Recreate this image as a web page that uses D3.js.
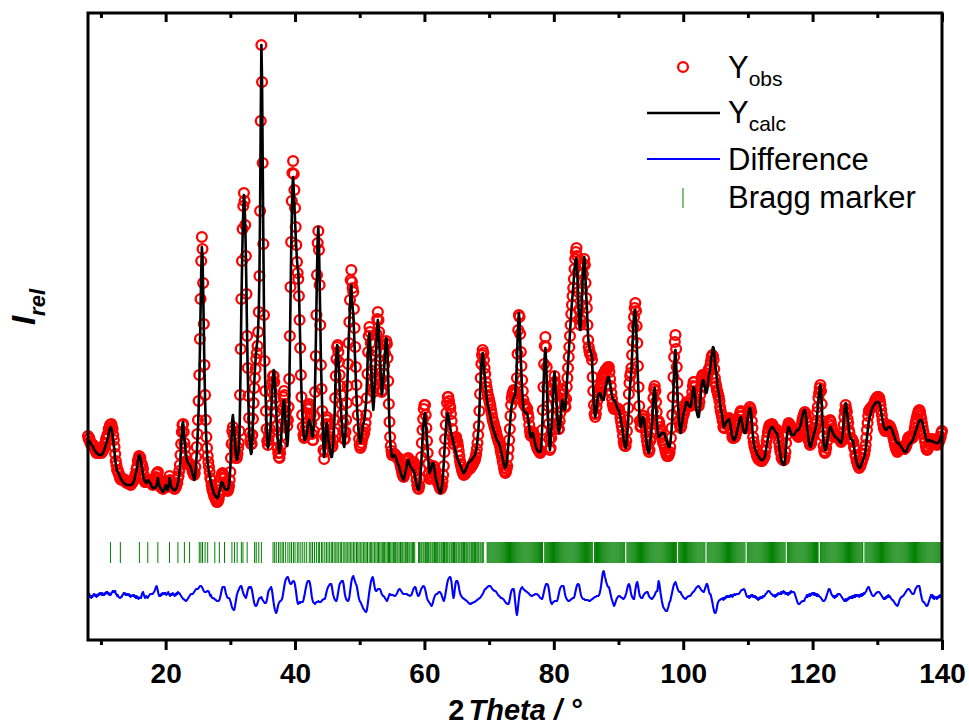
<!DOCTYPE html>
<html>
<head>
<meta charset="utf-8">
<script src="https://cdn.jsdelivr.net/npm/d3@7"></script>
<style>
  body { margin: 0; background: #fff; }
  svg { display: block; }
  text { font-family: "Liberation Sans", Arial, sans-serif; }
</style>
</head>
<body>
<div id="chart"></div>
<script>
// scan grid: 8.0 .. 140.0 deg, step 0.1 deg (one row per degree below)
const scanStart = 8, scanStep = 0.1;

// calculated profile (relative intensity)
const yCalc = [
200,199,199,198,197,196,195,194,193,191,
190,189,188,187,187,186,186,185,185,185,
185,185,186,187,188,190,192,194,196,198,
200,203,207,210,212,213,212,209,205,200,
194,188,180,176,172,169,168,167,166,164,
162,161,160,159,158,157,157,156,156,155,
155,155,155,155,155,155,155,155,156,156,
158,159,161,164,167,170,174,179,183,185,
184,182,178,174,170,166,162,160,159,158,
157,158,159,160,159,158,157,156,154,153,
152,152,152,152,153,153,155,158,162,158,
155,153,152,151,150,149,148,149,151,153,
155,153,151,150,152,156,162,159,155,153,
152,151,150,150,150,150,151,152,154,157,
160,165,172,183,195,208,216,218,210,200,
195,188,183,180,178,177,176,175,174,172,
170,168,165,163,160,161,166,175,185,198,
212,230,255,290,330,368,393,382,350,310,
270,240,215,198,186,178,172,168,165,161,
158,155,152,150,148,146,145,144,143,142,
142,143,145,148,151,154,157,158,157,155,
153,152,151,151,150,150,150,152,155,162,
172,188,205,220,225,218,208,200,190,184,
180,182,186,190,200,235,280,330,370,405,
430,445,438,415,385,345,300,265,235,212,
198,190,186,188,200,220,240,258,270,280,
290,295,300,312,330,365,430,520,595,560,
480,400,330,285,255,235,215,200,192,194,
198,203,212,225,240,254,265,270,268,255,
243,230,215,203,195,189,187,191,198,207,
218,230,238,240,232,220,210,200,194,200,
215,245,290,340,385,425,452,463,450,435,
420,405,392,380,373,368,350,325,298,270,
248,230,218,208,202,200,201,203,205,210,
215,218,220,218,215,212,206,203,205,215,
230,255,290,330,370,402,413,395,360,320,
280,255,232,210,192,183,190,203,213,217,
212,205,198,195,190,186,183,183,188,198,
208,222,245,268,285,295,293,282,268,252,
240,230,220,210,202,196,193,198,208,222,
240,258,280,300,318,335,350,355,340,332,
327,312,295,278,260,243,230,220,210,203,
199,197,200,205,210,215,217,220,225,232,
240,255,275,292,303,307,298,283,268,250,
238,230,238,252,268,283,300,314,320,312,
300,288,272,256,245,248,256,265,275,288,
298,302,300,285,260,235,215,200,192,187,
183,183,184,185,185,184,182,180,178,176,
175,173,170,168,166,164,162,161,160,163,
166,169,172,176,179,180,178,176,174,173,
172,171,170,170,168,165,162,158,155,152,
151,150,152,157,165,175,188,200,210,220,
225,227,220,210,200,190,180,172,167,169,
170,173,176,177,177,174,169,164,160,158,
156,153,151,149,147,147,149,153,160,168,
178,190,200,210,218,224,227,225,220,215,
212,208,205,203,200,197,194,191,189,187,
183,182,180,178,177,175,174,172,170,169,
167,167,168,169,171,172,174,176,177,178,
178,179,180,180,181,182,183,184,185,187,
190,194,200,207,216,230,247,262,275,283,
287,283,274,265,258,250,244,239,235,232,
229,226,223,220,217,214,212,210,208,206,
204,202,200,199,198,197,195,193,190,187,
184,181,178,175,173,172,174,177,181,190,
198,205,213,222,230,235,238,240,242,244,
245,250,262,280,300,318,327,320,300,280,
265,250,240,232,229,228,228,227,227,226,
222,218,212,207,203,203,205,207,206,203,
200,197,194,192,190,189,189,188,188,188,
190,198,212,230,250,270,285,292,280,260,
240,222,207,196,190,196,208,218,230,248,
262,268,262,250,240,228,218,210,207,212,
218,227,235,240,238,235,232,230,232,242,
255,265,276,287,297,307,318,328,337,345,
353,362,370,377,381,382,372,355,335,318,
312,310,318,335,352,368,378,383,378,360,
345,335,318,303,297,293,290,288,287,282,
265,250,236,226,223,226,232,238,243,246,
246,247,246,244,242,241,240,240,243,248,
252,255,258,261,263,263,260,256,252,248,
244,241,240,240,239,238,236,234,232,231,
230,229,226,222,218,215,211,206,200,196,
194,192,195,202,210,220,233,245,255,262,
270,285,300,315,325,330,330,318,300,282,
262,245,230,218,213,215,219,222,223,222,
218,212,205,199,194,190,188,187,190,200,
203,210,218,230,242,250,252,245,233,222,
213,207,203,203,204,205,206,207,207,207,
207,206,204,202,200,198,196,194,193,193,
197,203,210,220,235,252,270,284,290,278,
262,248,235,224,215,209,207,211,216,221,
225,227,230,233,236,238,238,237,235,234,
234,233,235,239,244,249,253,252,246,239,
232,228,225,223,223,228,236,245,252,257,
259,260,258,254,250,247,247,250,255,262,
266,268,272,278,285,290,293,292,286,278,
273,268,261,255,250,247,242,236,231,228,
225,220,216,213,214,216,217,218,219,220,
220,221,218,214,210,206,203,201,200,200,
201,203,205,208,211,214,217,220,222,223,
221,217,213,210,208,207,207,209,213,218,
223,227,230,232,231,226,218,210,203,197,
194,191,190,188,186,185,184,183,182,181,
180,180,180,180,181,182,183,186,190,195,
198,202,205,208,210,211,212,213,213,212,
211,210,209,208,207,207,205,200,195,190,
186,182,179,177,176,175,175,178,185,193,
202,208,212,213,212,210,208,206,205,205,
205,205,206,207,208,209,210,210,210,211,
212,214,217,220,223,226,228,230,230,227,
222,216,210,204,199,195,194,193,195,198,
201,203,206,208,210,213,218,225,232,240,
246,252,255,250,238,222,208,198,193,190,
190,192,196,200,204,208,211,213,213,211,
209,208,206,205,204,203,203,202,202,201,
200,199,198,198,197,199,203,210,218,227,
233,237,235,230,224,218,212,207,203,201,
201,200,200,197,193,189,185,181,178,176,
174,173,172,172,173,175,177,178,180,182,
183,186,190,196,202,208,214,219,222,225,
227,229,231,233,234,235,236,237,237,238,
238,238,238,237,235,232,228,224,220,217,
214,212,211,210,210,211,212,213,213,213,
213,212,211,210,208,206,204,202,200,199,
198,197,197,197,196,195,194,193,192,191,
190,189,188,188,188,189,190,192,194,195,
196,197,197,198,199,200,202,204,206,208,
210,212,214,216,218,219,220,220,220,219,
217,214,211,208,205,202,200,199,199,199,
200,200,199,199,199,199,198,198,198,198,
197,197,197,197,197,198,199,201,203,205,
207
];

// difference curve Yobs - Ycalc, same grid
const yDiff = [
4,2,3,0,1,-1,1,0,2,3,
3,1,2,0,2,1,3,2,4,3,
4,2,4,2,3,2,4,3,5,4,
5,3,4,2,3,2,4,4,6,5,
6,5,6,3,3,1,2,0,0,-1,
-1,0,0,2,2,4,3,4,2,3,
2,3,2,3,1,2,0,1,1,2,
1,2,0,1,-1,1,-1,0,-2,-1,
-1,0,-1,2,4,5,3,1,-1,0,
1,0,-1,0,1,2,3,3,3,3,
3,4,5,6,8,10,11,9,6,3,
1,2,1,3,2,4,3,4,3,4,
4,2,3,3,5,3,2,1,3,2,
2,4,3,2,1,3,2,4,3,5,
4,4,3,2,1,0,-1,-2,-2,-3,
-3,-4,-4,-3,-2,-1,0,1,2,3,
3,3,3,4,5,6,7,8,8,8,
8,9,10,11,11,11,10,9,7,6,
5,5,5,5,6,6,6,5,3,1,
2,0,-1,-1,-1,-2,-2,-3,-3,-4,
-4,-4,-4,-3,-1,2,5,8,10,10,
10,10,7,4,2,0,-1,-1,-1,-2,
-4,-6,-9,-11,-12,-13,-13,-10,-6,-2,
2,4,6,7,9,10,11,11,9,6,
4,2,1,0,-1,1,4,7,9,10,
9,10,10,8,5,1,-3,-6,-8,-9,
-9,-8,-6,-4,-2,-1,-1,-1,0,-2,
-3,-4,-5,-6,-6,-6,-4,-1,3,6,
7,8,9,10,8,4,-1,-6,-10,-13,
-15,-16,-14,-11,-8,-6,-5,-4,-4,-3,
-2,1,5,9,13,16,18,19,20,20,
18,16,14,13,13,14,15,16,16,15,
12,8,3,-2,-6,-7,-6,-5,-6,-5,
-5,-5,-5,-3,0,3,7,10,13,15,
16,16,16,14,10,5,0,-3,-5,-6,
-6,-7,-6,-5,-5,-5,-4,-5,-5,-5,
-5,-4,-3,-3,-2,-2,-2,0,3,6,
8,10,11,12,13,13,13,10,6,2,
0,-2,-3,-4,-4,-2,2,6,10,13,
14,15,16,16,16,13,8,3,0,-2,
-3,-4,-4,-3,0,5,10,15,18,20,
21,19,17,15,13,12,9,5,1,-2,
-4,-5,-6,-8,-9,-11,-12,-13,-14,-15,
-15,-13,-9,-4,1,6,10,14,17,19,
20,18,14,10,7,6,6,7,8,8,
8,8,7,5,3,2,1,1,0,-1,
-2,-3,-4,-3,-1,1,3,3,2,2,
2,2,2,1,1,1,2,3,4,6,
7,8,8,7,6,5,4,3,3,3,
3,3,3,3,2,2,2,1,1,2,
2,4,6,8,9,10,10,8,5,3,
1,1,2,4,6,8,9,10,11,11,
10,8,5,2,-1,-3,-4,-5,-6,-7,
-8,-9,-8,-6,-3,-1,1,2,3,3,
3,4,5,5,5,4,3,1,-1,-3,
-4,-2,1,5,9,13,16,18,19,20,
20,18,14,8,2,-1,2,8,13,16,
16,16,14,11,7,4,2,1,0,-1,
-1,-2,-2,-3,-3,-4,-4,-5,-6,-6,
-7,-7,-7,-6,-6,-6,-5,-5,-5,-4,
-4,-3,-3,-2,-2,-1,-1,0,1,2,
3,4,6,7,8,8,9,10,10,11,
11,11,11,10,9,8,7,7,6,6,
6,5,4,3,2,1,1,0,-1,-1,
-1,-2,-2,-3,-4,-5,-6,-6,-7,-7,
-7,-5,-2,2,5,7,8,8,8,4,
-3,-9,-15,-18,-14,-8,-2,3,6,8,
9,10,9,8,7,7,6,6,5,5,
4,4,3,2,2,1,1,1,2,2,
2,3,3,3,3,2,2,1,0,-1,
-1,-2,-2,0,3,6,9,11,13,13,
13,12,9,5,0,-4,-6,-7,-6,-5,
-5,-4,-4,-4,-4,-4,-2,1,4,7,
9,10,11,11,11,11,8,4,1,-1,
-2,-3,-4,-4,-4,-3,-3,-2,-2,-1,
-1,-1,1,4,7,10,12,13,13,12,
9,5,2,0,-1,-2,-2,-2,-3,-3,
-3,-3,-3,-3,-4,-4,-4,-3,-3,-2,
-2,-1,-1,0,0,0,1,1,1,1,
2,4,7,11,16,21,25,26,24,20,
18,15,13,11,10,10,8,5,2,-1,
-3,-5,-7,-9,-8,-6,-4,-2,-1,0,
1,1,1,0,0,-1,-1,-2,-2,-1,
0,2,4,7,10,12,13,12,9,5,
2,0,-1,-2,-2,2,7,11,14,15,
12,8,4,1,0,-1,-1,-1,1,2,
3,4,4,5,5,5,3,1,0,-1,
-1,-2,-2,-1,0,1,2,4,5,6,
6,11,16,14,9,4,0,-4,-7,-10,
-11,-12,-13,-14,-14,-14,-12,-10,-7,-5,
-4,-1,2,5,8,11,13,14,15,13,
11,9,7,6,5,5,5,3,2,1,
0,-1,-1,-2,-2,-1,0,0,1,1,
1,1,2,3,4,5,5,6,7,8,
9,10,10,11,11,10,9,8,7,6,
6,5,5,7,9,11,13,13,11,8,
5,3,3,1,-2,-5,-9,-12,-15,-16,
-16,-14,-11,-7,-5,-4,-3,-3,-2,-2,
-2,-1,-3,-1,-2,0,-1,1,0,1,
0,1,0,2,1,2,0,1,2,3,
2,2,3,3,3,3,3,4,5,6,
7,7,7,8,8,7,5,3,1,0,
0,1,-1,1,0,2,1,2,0,1,
0,1,-1,0,-2,-1,-3,-1,-2,0,
-1,0,-1,1,0,1,1,3,3,4,
5,6,6,6,5,4,3,3,2,1,
1,2,0,2,1,3,2,4,3,3,
3,5,3,5,4,6,5,5,3,4,
3,4,2,4,3,5,4,6,5,5,
5,5,4,2,0,-2,-4,-6,-7,-7,
-7,-6,-5,-5,-4,-4,-4,-4,-2,-1,
0,2,0,2,1,3,1,3,2,4,
3,4,2,4,2,3,1,3,1,2,
1,0,0,-1,-2,-3,-4,-4,-4,-3,
-2,0,2,4,6,8,8,7,5,3,
2,1,0,1,-1,1,0,2,1,3,
3,3,3,2,1,0,-1,-2,-3,-4,
-4,-2,-4,-2,-3,-1,-2,0,-1,0,
-1,1,-1,1,0,2,0,2,1,2,
1,2,0,2,1,3,1,3,2,4,
3,4,5,6,8,9,10,10,8,6,
5,3,2,1,1,1,2,3,4,4,
5,5,5,5,4,3,2,1,0,-1,
-2,-1,-2,0,-1,1,0,2,0,1,
0,-1,-2,-3,-3,-4,-5,-6,-7,-8,
-8,-9,-8,-6,-4,-2,-1,0,0,1,
1,2,3,4,5,6,7,8,8,8,
7,6,5,4,3,3,3,4,6,8,
9,10,11,11,11,11,8,4,1,-2,
-4,-5,-5,-6,-7,-8,-9,-9,-8,-6,
-4,-2,0,2,0,2,-1,1,-2,0,
-1,0,-2,0,-1,1,0,2,0,2,
2
];

// Bragg reflection positions (2theta, deg)
const braggPos = [
11.47,13.0,15.95,17.24,18.8,20.6,21.9,22.9,23.7,25.2,25.45,25.7,26.1,26.5,27.6,28.3,29.1,
30.25,30.65,31.05,31.7,31.95,32.6,33.75,34.0,34.4,34.8,
36.6,36.85,37.1,37.45,37.7,38.0,38.2,38.55,38.9,39.2,39.45,39.75,40.0,40.35,40.6,40.9,41.2,41.5,41.8,
42.2,42.45,42.7,43.0,43.3,43.6,43.8,44.1,44.3,44.6,44.85,45.1,45.35,45.6,45.8,46.05,46.3,46.5,46.75,
47.0,47.2,47.45,47.7,47.9,48.15,48.35,48.6,48.8,49.05,49.25,49.5,49.7,49.9,50.15,50.35,50.6,50.8,
51.0,51.2,51.45,51.65,51.85,52.05,52.3,52.5,52.7,52.9,
53.1,53.3,53.5,53.7,53.85,54.05,54.25,54.45,54.6,54.8,55.0,55.2,55.35,55.55,55.75,55.9,56.1,56.3,
56.5,56.65,56.85,57.05,57.2,57.4,57.6,57.75,57.95,58.15,58.3,58.5,
59.1,59.25,59.45,59.6,59.8,59.95,60.15,60.3,60.5,60.65,60.85,61.0,61.2,61.35,61.55,61.7,61.9,62.05,
62.25,62.4,62.6,62.75,62.95,63.1,63.3,63.45,63.6,63.8,63.95,64.15,64.3,64.5,64.65,64.85,65.0,65.2,
65.35,65.5,65.7,65.85,66.05,66.2,66.4,66.55,66.7,66.9,67.05,67.25,67.4,67.55,67.75,67.9,68.1,68.25,
68.4,68.6,68.75,68.95,69.1,
69.7,69.85,70.0,70.15,70.3,70.45,70.6,70.75,70.9,71.05,71.2,71.35,71.5,71.65,71.8,71.95,72.1,72.25,
72.4,72.55,72.7,72.85,73.0,73.15,73.3,73.45,73.6,73.75,73.9,74.05,74.2,74.35,74.5,74.65,74.8,74.95,
75.1,75.25,75.4,75.55,75.7,75.85,76.0,76.15,76.3,76.45,76.6,76.75,76.9,77.05,77.2,77.35,77.5,77.65,
77.8,77.95,78.1,78.25,
78.6,78.75,78.9,79.05,79.2,79.35,79.5,79.65,79.8,79.95,80.1,80.25,80.4,80.55,80.7,80.85,81.0,81.15,
81.3,81.45,81.6,81.75,81.9,82.05,82.2,82.35,82.5,82.65,82.8,82.95,83.1,83.25,83.4,83.55,83.7,83.85,
84.0,84.15,84.3,84.45,84.6,84.75,84.9,85.05,85.2,85.35,85.5,85.65,85.8,85.95,
86.3,86.45,86.6,86.75,86.9,87.05,87.2,87.35,87.5,87.65,87.8,87.95,88.1,88.25,88.4,88.55,88.7,88.85,
89.0,89.15,89.3,89.45,89.6,89.75,89.9,90.05,90.2,90.35,90.5,90.65,90.8,90.95,
91.3,91.45,91.6,91.75,91.9,92.05,92.2,92.35,92.5,92.65,92.8,92.95,93.1,93.25,93.4,93.55,93.7,93.85,
94.0,94.15,94.3,94.45,94.6,94.75,94.9,95.05,95.2,95.35,95.5,95.65,95.8,95.95,96.1,96.25,96.4,96.55,
96.7,96.85,97.0,97.15,97.3,97.45,97.6,97.75,97.9,98.05,98.2,98.35,98.5,98.65,98.8,98.95,
99.3,99.45,99.6,99.75,99.9,100.05,100.2,100.35,100.5,100.65,100.8,100.95,101.1,101.25,101.4,101.55,
101.7,101.85,102.0,102.15,102.3,102.45,102.6,102.75,102.9,103.05,103.2,103.35,
103.7,103.85,104.0,104.15,104.3,104.45,104.6,104.75,104.9,105.05,105.2,105.35,105.5,105.65,105.8,
105.95,106.1,106.25,106.4,106.55,106.7,106.85,107.0,107.15,107.3,107.45,107.6,107.75,107.9,108.05,
108.2,108.35,108.5,108.65,108.8,108.95,109.1,109.25,109.4,109.55,
109.9,110.05,110.2,110.35,110.5,110.65,110.8,110.95,111.1,111.25,111.4,111.55,111.7,111.85,112.0,
112.15,112.3,112.45,112.6,112.75,112.9,113.05,113.2,113.35,113.5,113.65,113.8,113.95,114.1,114.25,
114.4,114.55,114.7,114.85,115.0,115.15,115.3,115.45,115.6,115.75,
116.1,116.25,116.4,116.55,116.7,116.85,117.0,117.15,117.3,117.45,117.6,117.75,117.9,118.05,118.2,
118.35,118.5,118.65,118.8,118.95,119.1,119.25,119.4,119.55,119.7,119.85,120.0,120.15,120.3,120.45,
120.6,120.75,120.85,
121.2,121.35,121.5,121.65,121.8,121.95,122.1,122.25,122.4,122.55,122.7,122.85,123.0,123.15,123.3,
123.45,123.6,123.75,123.9,124.05,124.2,124.35,124.5,124.65,124.8,124.95,125.1,125.25,125.4,125.55,
125.7,125.85,126.0,126.15,126.3,126.45,126.6,126.75,126.9,127.05,127.2,127.35,127.5,127.65,127.75,
128.1,128.25,128.4,128.55,128.7,128.85,129.0,129.15,129.3,129.45,129.6,129.75,129.9,130.05,130.2,
130.35,130.5,130.65,130.8,130.95,131.1,131.25,131.4,131.55,131.7,131.85,132.0,132.15,132.3,132.45,
132.6,132.75,132.9,133.05,133.2,133.35,133.5,133.65,133.8,133.95,134.1,134.25,134.4,134.55,134.7,
134.85,135.0,135.15,135.3,135.45,135.6,135.75,135.9,136.05,136.2,136.35,136.5,136.65,136.8,136.95,
137.1,137.25,137.4,137.55,137.7,137.85,138.0,138.15,138.3,138.45,138.6,138.75,138.9,139.05,139.2,
139.35,139.5,139.65,139.8,139.95
];

const majorTicks = [20, 40, 60, 80, 100, 120, 140];
const minorTicks = [10, 30, 50, 70, 90, 110, 130];

// vertical placement of difference curve and marker row (intensity units)
const diffOffset = 43;
const braggLow = 77, braggHigh = 98;

const W = 969, H = 728;
const margin = { top: 13, right: 27, bottom: 88, left: 88 };
const width = W - margin.left - margin.right,
      height = H - margin.top - margin.bottom;

const root = d3.select("#chart").append("svg")
  .attr("width", W)
  .attr("height", H);

const svg = root.append("g")
  .attr("transform", "translate(" + margin.left + "," + margin.top + ")");

const x = d3.scaleLinear().domain([8, 140]).range([0, width]);
const y = d3.scaleLinear().domain([0, 627]).range([height, 0]);

const n = Math.min(yCalc.length, yDiff.length);
const pts = d3.range(n).map(i => ({
  t: scanStart + i * scanStep,
  calc: yCalc[i],
  diff: yDiff[i],
  obs: yCalc[i] + yDiff[i]
}));

// observed points
svg.append("g")
  .selectAll("circle")
  .data(pts)
  .enter()
  .append("circle")
  .attr("cx", d => x(d.t))
  .attr("cy", d => y(d.obs))
  .attr("r", 4.9)
  .attr("fill", "none")
  .attr("stroke", "#ff0000")
  .attr("stroke-width", 2.3);

// calculated line
svg.append("path")
  .datum(pts)
  .attr("fill", "none")
  .attr("stroke", "#000")
  .attr("stroke-width", 2.6)
  .attr("stroke-linejoin", "round")
  .attr("d", d3.line().x(d => x(d.t)).y(d => y(d.calc)));

// Bragg markers
svg.append("g")
  .selectAll("line")
  .data(braggPos)
  .enter()
  .append("line")
  .attr("x1", d => x(d)).attr("x2", d => x(d))
  .attr("y1", y(braggLow)).attr("y2", y(braggHigh))
  .attr("stroke", "#008000")
  .attr("stroke-width", 1);

// difference curve
svg.append("path")
  .datum(pts)
  .attr("fill", "none")
  .attr("stroke", "#0000ff")
  .attr("stroke-width", 2.1)
  .attr("stroke-linejoin", "round")
  .attr("d", d3.line().x(d => x(d.t)).y(d => y(diffOffset + d.diff)));

// axes
const xAxis = d3.axisBottom(x).tickValues(majorTicks).tickSize(10).tickPadding(13)
  .tickFormat(d3.format("d"));
const xMinor = d3.axisBottom(x).tickValues(minorTicks).tickSize(5).tickFormat("");
const topMajor = d3.axisTop(x).tickValues(majorTicks).tickSize(-9).tickFormat("");
const topMinor = d3.axisTop(x).tickValues(minorTicks).tickSize(-5).tickFormat("");

function styleAxis(g) {
  g.select(".domain").remove();
  g.selectAll(".tick line").attr("stroke", "#000").attr("stroke-width", 3);
  g.selectAll(".tick text")
    .attr("font-family", '"Liberation Sans", Arial, sans-serif')
    .attr("font-size", 28)
    .attr("font-weight", "bold")
    .attr("fill", "#000");
}

svg.append("g").attr("class", "x-axis axis")
  .attr("transform", "translate(0," + height + ")").call(xAxis).call(styleAxis);
svg.append("g").attr("transform", "translate(0," + height + ")").call(xMinor).call(styleAxis);
svg.append("g").call(topMajor).call(styleAxis);
svg.append("g").call(topMinor).call(styleAxis);

// frame
svg.append("rect")
  .attr("width", width)
  .attr("height", height)
  .attr("fill", "none")
  .attr("stroke", "#000")
  .attr("stroke-width", 3);

// axis titles
const xt = root.append("text")
  .attr("x", margin.left + width / 2)
  .attr("y", 720)
  .attr("text-anchor", "middle")
  .attr("font-size", 29)
  .attr("font-weight", "bold");
xt.append("tspan").text("2");
xt.append("tspan").attr("dx", 4).attr("font-style", "italic").text("Theta / °");

const yt = root.append("text")
  .attr("transform", "translate(35,307) rotate(-90)")
  .attr("text-anchor", "middle")
  .attr("font-weight", "bold")
  .attr("font-style", "italic");
yt.append("tspan").attr("font-size", 33).text("I");
yt.append("tspan").attr("font-size", 22).attr("dy", 10).text("rel");

// legend
const lg = root.append("g");
lg.append("circle").attr("cx", 683).attr("cy", 67).attr("r", 4.9)
  .attr("fill", "none").attr("stroke", "#ff0000").attr("stroke-width", 2.3);
lg.append("line").attr("x1", 647).attr("x2", 720).attr("y1", 113).attr("y2", 113)
  .attr("stroke", "#000").attr("stroke-width", 2.6);
lg.append("line").attr("x1", 647).attr("x2", 720).attr("y1", 159).attr("y2", 159)
  .attr("stroke", "#0000ff").attr("stroke-width", 2);
lg.append("line").attr("x1", 683).attr("x2", 683).attr("y1", 188).attr("y2", 208)
  .attr("stroke", "#008000").attr("stroke-width", 1);

function legendText(yb, main, sub) {
  const t = lg.append("text").attr("x", 728).attr("y", yb).attr("font-size", 31).attr("fill", "#000");
  t.append("tspan").text(main);
  if (sub) t.append("tspan").attr("font-size", 21).attr("dy", 8).text(sub);
}
legendText(78, "Y", "obs");
legendText(123, "Y", "calc");
legendText(170, "Difference");
legendText(208, "Bragg marker");
</script>
</body>
</html>
